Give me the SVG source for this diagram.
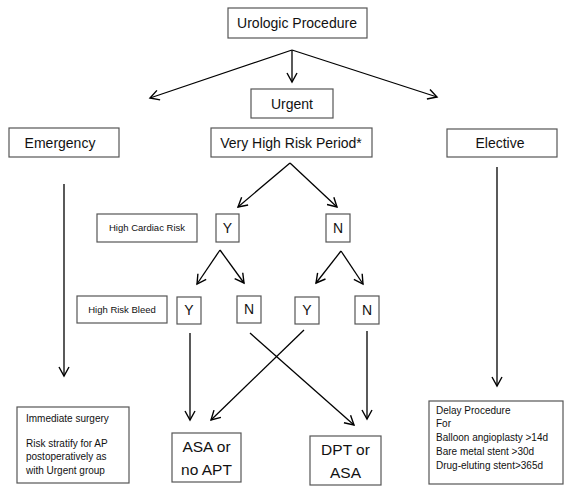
<svg xmlns="http://www.w3.org/2000/svg" width="580" height="497" viewBox="0 0 580 497">
<style>
.box{fill:#fff;stroke:#555;stroke-width:1.2}
.t{font-family:"Liberation Sans",Arial,sans-serif;fill:#111;text-anchor:middle}
.m{font-size:14px}
.s{font-size:9.5px}
.b{font-size:15.5px}
.l{font-size:10px;text-anchor:start}
.c{fill:none;stroke:#000;stroke-width:1.3}
</style>
<defs>
<marker id="a" viewBox="-10 -6 12 12" refX="0" refY="0" markerWidth="12" markerHeight="12" markerUnits="userSpaceOnUse" orient="auto">
<path d="M-9,-5 L0,0 L-9,5" fill="none" stroke="#000" stroke-width="1.4"/>
</marker>
</defs>
<rect width="580" height="497" fill="#fff"/>
<g id="connectors" class="c" marker-end="url(#a)">
<line x1="292" y1="50" x2="150" y2="98"/>
<line x1="292" y1="50" x2="292" y2="82"/>
<line x1="292" y1="50" x2="437" y2="97"/>
<line x1="290" y1="163" x2="238" y2="207"/>
<line x1="290" y1="163" x2="337" y2="207"/>
<line x1="220" y1="250" x2="197" y2="284"/>
<line x1="220" y1="250" x2="244" y2="283"/>
<line x1="341" y1="251" x2="316" y2="283"/>
<line x1="341" y1="251" x2="363" y2="284"/>
<line x1="64" y1="184" x2="64" y2="376"/>
<line x1="497" y1="167" x2="497" y2="386"/>
<line x1="190" y1="333" x2="190" y2="420"/>
<line x1="367" y1="331" x2="367" y2="419"/>
<line x1="250" y1="333" x2="354" y2="425"/>
<line x1="304" y1="330" x2="211" y2="420"/>
</g>
<g id="urologic"><rect class="box" x="228" y="8" width="139" height="30"/><text class="t m" x="297" y="28">Urologic Procedure</text></g>
<g id="urgent"><rect class="box" x="251" y="89" width="82" height="29"/><text class="t m" x="292" y="109">Urgent</text></g>
<g id="vhrp"><rect class="box" x="211" y="128" width="161" height="29"/><text class="t m" x="291" y="148">Very High Risk Period*</text></g>
<g id="emergency"><rect class="box" x="9" y="128" width="110" height="29"/><text class="t m" x="60" y="148">Emergency</text></g>
<g id="elective"><rect class="box" x="447" y="129" width="110" height="28"/><text class="t m" x="500" y="148">Elective</text></g>
<g id="hcr"><rect class="box" x="97" y="214" width="100" height="28"/><text class="t s" x="147" y="231">High Cardiac Risk</text></g>
<g id="y1"><rect class="box" x="216" y="214" width="23" height="28"/><text class="t m" x="227.5" y="233">Y</text></g>
<g id="n1"><rect class="box" x="326" y="214" width="24" height="28"/><text class="t m" x="338" y="233">N</text></g>
<g id="hrb"><rect class="box" x="77" y="296" width="90" height="27"/><text class="t s" x="122" y="313">High Risk Bleed</text></g>
<g id="y2a"><rect class="box" x="177" y="297" width="24" height="27"/><text class="t m" x="189" y="315">Y</text></g>
<g id="n2a"><rect class="box" x="237" y="296" width="24" height="27"/><text class="t m" x="249" y="314">N</text></g>
<g id="y2b"><rect class="box" x="295" y="297" width="24" height="27"/><text class="t m" x="307" y="315">Y</text></g>
<g id="n2b"><rect class="box" x="355" y="296" width="24" height="28"/><text class="t m" x="367" y="315">N</text></g>
<g id="immediate"><rect class="box" x="17" y="407" width="112" height="76"/>
<text class="t l" x="26" y="422">Immediate surgery</text>
<text class="t l" x="26" y="447">Risk stratify for AP</text>
<text class="t l" x="26" y="460">postoperatively as</text>
<text class="t l" x="26" y="474">with Urgent group</text></g>
<g id="asa"><rect class="box" x="172" y="433" width="69" height="49"/><text class="t b" x="206.5" y="452">ASA or</text><text class="t b" x="206.5" y="475">no APT</text></g>
<g id="dpt"><rect class="box" x="310" y="436" width="71" height="49"/><text class="t b" x="345.5" y="455">DPT or</text><text class="t b" x="345.5" y="478">ASA</text></g>
<g id="delay"><rect class="box" x="429" y="401" width="134" height="83"/>
<text class="t l" x="436" y="414">Delay Procedure</text>
<text class="t l" x="436" y="427">For</text>
<text class="t l" x="436" y="441">Balloon angioplasty &gt;14d</text>
<text class="t l" x="436" y="455">Bare metal stent &gt;30d</text>
<text class="t l" x="436" y="469">Drug-eluting stent&gt;365d</text></g>
</svg>
